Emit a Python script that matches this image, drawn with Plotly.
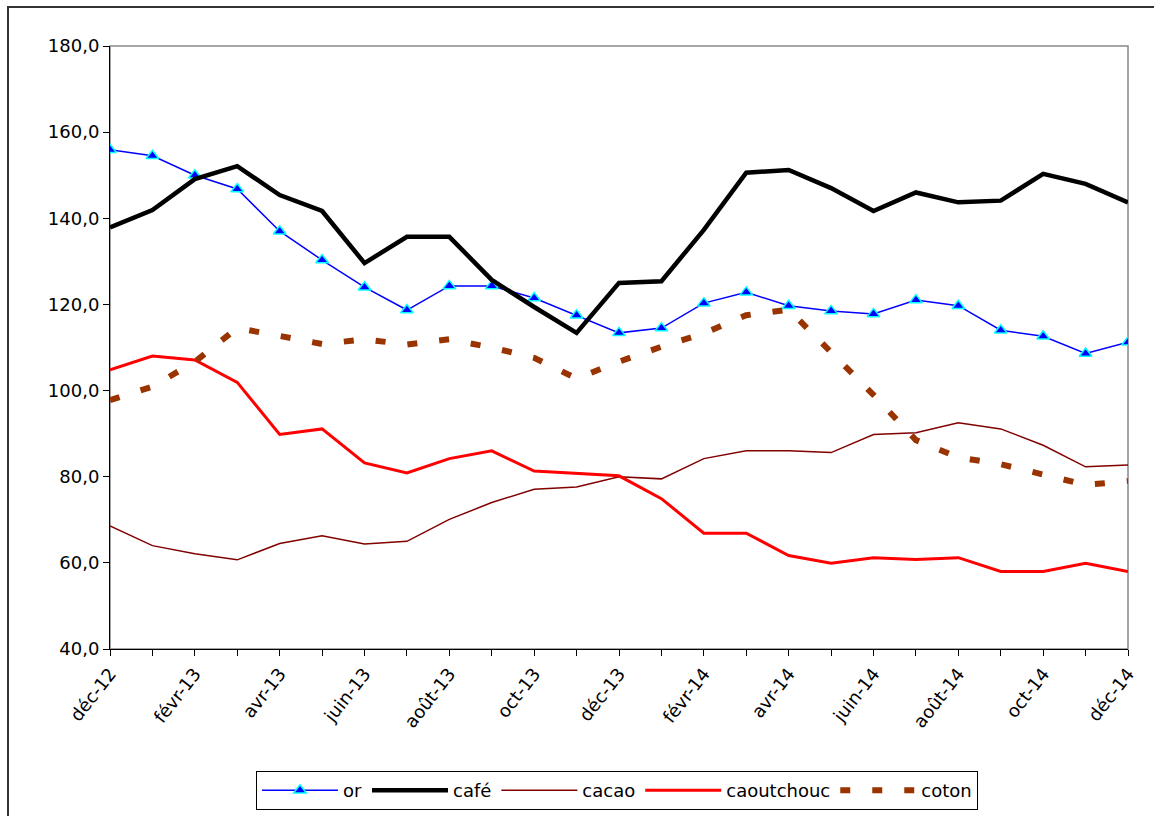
import plotly.graph_objects as go

months = ["déc-12", "janv-13", "févr-13", "mars-13", "avr-13", "mai-13", "juin-13",
          "juil-13", "août-13", "sept-13", "oct-13", "nov-13", "déc-13", "janv-14",
          "févr-14", "mars-14", "avr-14", "mai-14", "juin-14", "juil-14", "août-14",
          "sept-14", "oct-14", "nov-14", "déc-14"]

or_vals = [155.9, 154.5, 150.0, 146.8, 137.0, 130.3, 124.0, 118.7, 124.3, 124.3,
           121.5, 117.5, 113.4, 114.5, 120.3, 122.8, 119.7, 118.5, 117.8, 121.0,
           119.7, 114.0, 112.6, 108.6, 111.2]
cafe_vals = [137.9, 141.9, 149.1, 152.1, 145.4, 141.7, 129.6, 135.7, 135.7, 125.7,
             119.4, 113.4, 125.0, 125.4, 137.3, 150.6, 151.2, 147.0, 141.7, 146.0,
             143.7, 144.1, 150.3, 148.0, 143.7]
cacao_vals = [68.6, 64.0, 62.1, 60.7, 64.5, 66.3, 64.4, 65.0, 70.1, 74.0,
              77.1, 77.6, 80.0, 79.5, 84.2, 86.0, 86.0, 85.6, 89.8, 90.2,
              92.5, 91.1, 87.3, 82.3, 82.7]
caout_vals = [104.8, 108.0, 107.1, 101.9, 89.8, 91.1, 83.2, 80.9, 84.2, 86.0,
              81.3, 80.8, 80.2, 74.9, 66.9, 66.9, 61.7, 59.9, 61.2, 60.8,
              61.2, 58.0, 58.0, 59.9, 58.0]
coton_vals = [97.8, 100.9, 106.7, 114.5, 112.7, 110.8, 111.9, 110.7, 111.9, 110.0,
              107.6, 102.8, 106.7, 110.2, 113.3, 117.5, 118.8, 109.0, 99.0, 88.5,
              84.5, 82.9, 80.6, 78.1, 79.0]

x = list(range(len(months)))
ticktext = [m if i % 2 == 0 else "" for i, m in enumerate(months)]

FONT = "DejaVu Sans, Arial, sans-serif"
FS = 18

fig = go.Figure()
fig.add_trace(go.Scatter(
    x=x, y=or_vals, name="or", mode="lines+markers",
    line=dict(color="#0000FF", width=1.5),
    marker=dict(symbol="triangle-up", size=11, color="#0000FF",
                line=dict(color="#00FFFF", width=1.5))))
fig.add_trace(go.Scatter(
    x=x, y=cafe_vals, name="café", mode="lines",
    line=dict(color="#000000", width=4.5)))
fig.add_trace(go.Scatter(
    x=x, y=cacao_vals, name="cacao", mode="lines",
    line=dict(color="#800000", width=1.5)))
fig.add_trace(go.Scatter(
    x=x, y=caout_vals, name="caoutchouc", mode="lines",
    line=dict(color="#FF0000", width=3)))
fig.add_trace(go.Scatter(
    x=x, y=coton_vals, name="coton", mode="lines",
    line=dict(color="#993300", width=6, dash="10px,22px")))

W, H = 1154, 816
L, R, T, B = 110, 1128, 46, 649
pw, ph = R - L, B - T

fig.update_layout(
    width=W, height=H,
    margin=dict(l=L, r=W - R, t=T, b=H - B, autoexpand=False),
    paper_bgcolor="white", plot_bgcolor="white",
    separators=", ",
    font=dict(family=FONT, size=FS, color="black"),
    showlegend=True,
    legend=dict(orientation="h", x=(617 - L) / pw, xanchor="center",
                y=-(771 - B) / ph, yanchor="top",
                bordercolor="black", borderwidth=1, bgcolor="white",
                itemwidth=76, font=dict(family=FONT, size=FS),
                tracegroupgap=0),
    xaxis=dict(range=[0, 24], tickvals=x, ticktext=ticktext, tickangle=-52,
               showgrid=False, zeroline=False, showline=True, linecolor="black",
               linewidth=1, ticks="outside", ticklen=6, tickcolor="black",
               tickfont=dict(family=FONT, size=FS)),
    yaxis=dict(range=[40, 180], dtick=20, tick0=40, tickformat=".1f",
               showgrid=False, zeroline=False, showline=True, linecolor="black",
               linewidth=1, ticks="outside", ticklen=6, tickcolor="black",
               tickfont=dict(family=FONT, size=FS)),
    shapes=[
        dict(type="rect", xref="paper", yref="paper", x0=0, x1=1, y0=0, y1=1,
             line=dict(color="#888888", width=1.5), layer="below"),
        dict(type="rect", xref="paper", yref="paper",
             x0=(8 - L) / pw, x1=(1300 - L) / pw,
             y0=-(1000 - B) / ph, y1=(B - 7) / ph,
             line=dict(color="#333333", width=2), layer="below"),
    ],
)

fig.write_html("out.html",
               config={"displayModeBar": False},
               post_script="document.body.style.margin='0';"
                           "document.body.style.overflow='hidden';")
